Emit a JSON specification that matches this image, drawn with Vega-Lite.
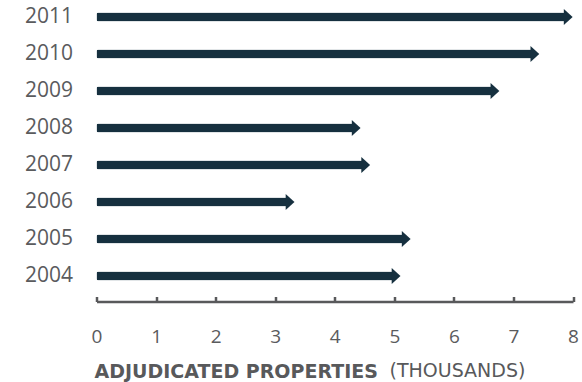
{
  "$schema": "https://vega.github.io/schema/vega-lite/v6.json",
  "width": 476.5,
  "height": 296,
  "autosize": {"type": "none"},
  "padding": {"left": 96.5, "top": -1.5, "right": 9, "bottom": 87.5},
  "background": "white",
  "config": {"view": {"stroke": null}},
  "data": {
    "values": [
      {"year": "2011", "value": 7.92},
      {"year": "2010", "value": 7.36},
      {"year": "2009", "value": 6.69},
      {"year": "2008", "value": 4.36},
      {"year": "2007", "value": 4.52},
      {"year": "2006", "value": 3.25},
      {"year": "2005", "value": 5.20},
      {"year": "2004", "value": 5.03}
    ]
  },
  "encoding": {
    "y": {
      "field": "year",
      "type": "nominal",
      "sort": "descending",
      "scale": {"paddingInner": 0, "paddingOuter": 0},
      "axis": {
        "title": null,
        "domain": false,
        "ticks": false,
        "labelPadding": 24,
        "labelFont": "Open Sans",
        "labelFontSize": 21,
        "labelColor": "#5a5b5d"
      }
    },
    "x": {
      "field": "value",
      "type": "quantitative",
      "scale": {"domain": [0, 8], "nice": false},
      "axis": {
        "values": [0, 1, 2, 3, 4, 5, 6, 7, 8],
        "grid": false,
        "offset": 7,
        "domainColor": "#58595b",
        "domainWidth": 2.5,
        "tickColor": "#58595b",
        "tickWidth": 2.5,
        "tickSize": -5,
        "labelFont": "Open Sans",
        "labelFontSize": 19,
        "labelColor": "#5a5b5d",
        "labelPadding": 31,
        "labelFlush": false,
        "title": "ADJUDICATED PROPERTIES",
        "titleFont": "DejaVu Sans",
        "titleFontWeight": "bold",
        "titleFontSize": 19,
        "titleColor": "#58595b",
        "titleAnchor": "start",
        "titleAlign": "left",
        "titleBaseline": "top",
        "titleX": -2.5,
        "titlePadding": 16
      }
    }
  },
  "layer": [
    {"mark": {"type": "bar", "size": 9, "color": "#16303f", "cornerRadius": 2}},
    {"mark": {"type": "point", "shape": "M-0.55,-1L0.55,0L-0.55,1Z", "size": 256, "filled": true, "opacity": 1, "color": "#16303f"}}
  ],
  "title": {
    "text": "(THOUSANDS)",
    "orient": "bottom",
    "anchor": "start",
    "frame": "group",
    "font": "DejaVu Sans",
    "fontWeight": "normal",
    "fontSize": 19,
    "color": "#58595b",
    "baseline": "top",
    "offset": -20,
    "dx": 293
  }
}
